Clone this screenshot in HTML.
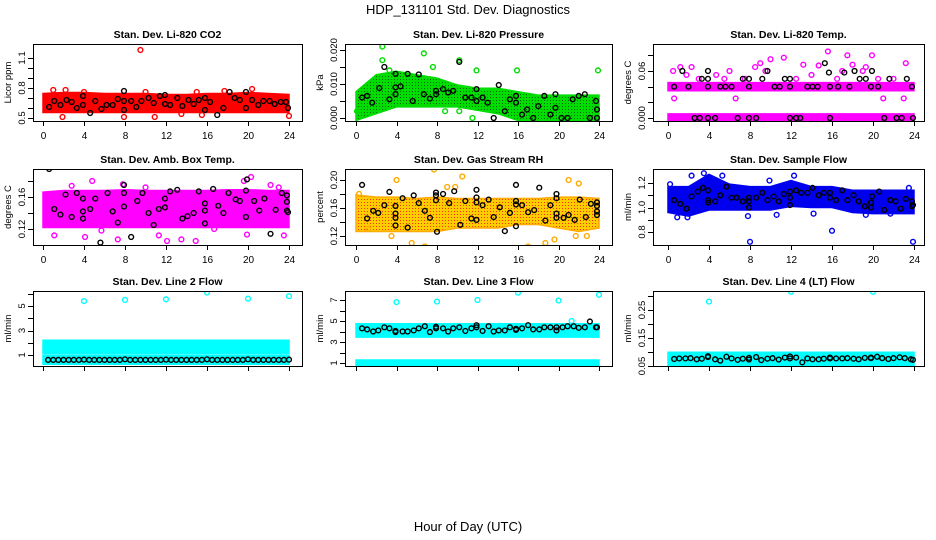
<!DOCTYPE html>
<html><head><meta charset="utf-8">
<style>
html,body{margin:0;padding:0;background:#fff;}
svg{display:block;font-family:"Liberation Sans",Arial,sans-serif;}
</style></head>
<body>
<svg id="chart" width="936" height="540" viewBox="0 0 936 540" xmlns="http://www.w3.org/2000/svg">
<defs>
<pattern id="pGreen" width="3" height="3" patternUnits="userSpaceOnUse"><rect width="3" height="3" fill="#00dd00"/><rect x="1" y="1" width="1" height="1" fill="#006600"/></pattern>
<pattern id="pOrange" width="3" height="3" patternUnits="userSpaceOnUse"><rect width="3" height="3" fill="#ffcc00"/><rect x="1" y="1" width="1" height="1" fill="#ff3300"/></pattern>
</defs>
<text x="468" y="14" text-anchor="middle" font-size="13">HDP_131101  Std. Dev. Diagnostics</text>
<text x="468" y="531" text-anchor="middle" font-size="13">Hour of Day (UTC)</text>
<g id="panels"></g>
</svg>
<script>
// ---- shared ----
const bandHours = [0,2,4,6,8,10,12,14,16,18,20,22,24];
const xTickValues = [0,4,8,12,16,20,24];

// ---- Panel 1: CO2 ----
const co2BandLo = [0.58,0.58,0.58,0.58,0.58,0.58,0.58,0.58,0.58,0.58,0.58,0.58,0.58];
const co2BandHi = [0.72,0.73,0.73,0.72,0.72,0.72,0.71,0.71,0.72,0.72,0.73,0.72,0.71];
const co2OutHours = [9.5,1.0,2.2,4.0,1.9,7.9,10.9,13.5,15.5,17.7,20.4,24,15,10];
const co2OutVals = [1.18,0.78,0.78,0.76,0.51,0.51,0.51,0.54,0.53,0.77,0.79,0.52,0.76,0.76];
const co2BlkHours = [0.6,1.1,1.7,2.3,2.8,3.3,3.9,3.9,4.6,5.1,5.7,6.2,6.8,7.3,7.9,7.9,7.9,8.6,9.1,9.6,10.3,10.8,11.4,11.9,11.9,12.4,13.1,13.6,14.2,14.7,15.2,15.8,15.8,16.3,17.0,17.6,18.2,18.7,19.2,19.8,19.8,20.4,21.0,21.5,22.1,22.6,23.2,23.7,23.9];
const co2BlkVals = [0.61,0.67,0.63,0.68,0.66,0.60,0.72,0.63,0.55,0.67,0.59,0.63,0.63,0.69,0.77,0.67,0.58,0.67,0.61,0.67,0.70,0.65,0.72,0.64,0.73,0.63,0.70,0.62,0.68,0.64,0.68,0.70,0.58,0.66,0.53,0.60,0.76,0.70,0.68,0.60,0.76,0.68,0.63,0.67,0.67,0.64,0.66,0.66,0.60];
const co2Ticks = [0.5,0.6,0.7,0.8,0.9,1.0,1.1];
const co2Labels = ["0.5","0.8","1.1"];

// ---- Panel 2: Pressure ----
const presBandLo = [0.000,0.002,0.004,0.004,0.004,0.004,0.003,0.002,0.000,0.000,0.000,0.000,0.000];
const presBandHi = [0.007,0.012,0.013,0.012,0.011,0.009,0.008,0.008,0.007,0.006,0.006,0.006,0.006];
const presOutHours = [2.6,2.6,6.7,7.6,10.2,11.9,15.9,23.9,3.3,0.1,8.8,10.2,11.5];
const presOutVals = [0.021,0.017,0.019,0.015,0.017,0.014,0.014,0.014,0.014,0.002,0.002,0.002,0.000];
const presBlkHours = [0.6,1.1,1.6,2.3,2.8,3.3,3.9,3.9,3.9,4.4,5.1,5.6,6.2,6.7,7.3,7.9,7.9,8.6,9.1,9.6,10.2,10.8,11.4,11.9,11.9,12.5,13.0,13.6,14.1,14.7,15.2,15.8,15.8,16.4,16.9,17.5,18.0,18.6,19.2,19.7,19.7,20.3,20.9,21.4,22.0,22.6,23.1,23.7,23.8,23.8];
const presBlkVals = [0.006,0.0065,0.0045,0.0088,0.015,0.0055,0.013,0.009,0.007,0.0093,0.013,0.005,0.0128,0.007,0.0057,0.008,0.007,0.0085,0.0075,0.008,0.0165,0.006,0.006,0.0085,0.005,0.006,0.0045,0.000,0.0097,0.002,0.0055,0.0065,0.0045,0.001,0.0025,0.000,0.0035,0.0065,0.001,0.007,0.003,0.000,0.000,0.0055,0.0065,0.007,0.000,0.005,0.0025,0.000];
const presTicks = [0,0.005,0.010,0.015,0.020];
const presLabels = ["0.000","0.010","0.020"];

// ---- Panel 3: Li-820 Temp ----
const ltBandLo = [-0.002,-0.002,-0.002,-0.002,-0.002,-0.002,-0.002,-0.002,-0.002,-0.002,-0.002,-0.002,-0.002];
const ltBandHi = [0.002,0.002,0.002,0.002,0.002,0.002,0.002,0.002,0.002,0.002,0.002,0.002,0.002];
const ltBand2Lo = [0.038,0.038,0.038,0.038,0.038,0.038,0.038,0.038,0.038,0.038,0.038,0.038,0.038];
const ltBand2Hi = [0.042,0.042,0.042,0.042,0.042,0.042,0.042,0.042,0.042,0.042,0.042,0.042,0.042];
const ltOutHours = [15.6,17.5,19.9,11.3,10,9,2.3,23.2,0.5,6.6,0.6,21,23,4.7,1.2,14.7,8.5,13.2,18,19.3,3,5.5,7.5,12.5,16.5,20.5,22,1.8,6,9.5,14,17,19];
const ltOutVals = [0.085,0.08,0.08,0.077,0.075,0.07,0.065,0.07,0.06,0.025,0.025,0.025,0.025,0.055,0.065,0.067,0.065,0.068,0.068,0.065,0.05,0.05,0.05,0.05,0.05,0.05,0.05,0.055,0.06,0.06,0.055,0.06,0.06];
const ltBlkHours = [0.6,1.4,2.0,2.6,3.1,3.3,3.9,3.9,3.9,3.9,4.6,5.1,5.6,6.2,6.8,7.3,7.9,7.9,7.9,8.6,9.2,9.7,10.4,10.9,11.4,11.9,11.9,11.9,12.5,12.9,13.6,14.1,14.6,15.3,15.7,15.8,15.8,16.6,17.2,17.7,18.2,18.7,19.3,19.8,19.9,20.5,21.1,21.6,22.3,22.8,23.3,23.8,23.9];
const ltBlkVals = [0.04,0.06,0.04,0.0,0.0,0.05,0.06,0.05,0.04,0.0,0.0,0.04,0.04,0.04,0.0,0.05,0.05,0.04,0.0,0.0,0.05,0.06,0.04,0.04,0.05,0.05,0.04,0.0,0.0,0.0,0.04,0.04,0.04,0.07,0.058,0.04,0.0,0.04,0.058,0.04,0.06,0.05,0.05,0.04,0.06,0.04,0.0,0.05,0.0,0.0,0.05,0.04,0.0];
const ltTicks = [0,0.02,0.04,0.06,0.08];
const ltLabels = ["0.000","0.06"];

// ---- Panel 4: Amb Box Temp ----
const abBandLo = [0.125,0.125,0.125,0.125,0.125,0.125,0.125,0.125,0.125,0.125,0.125,0.125,0.125];
const abBandHi = [0.163,0.165,0.165,0.165,0.166,0.165,0.165,0.165,0.165,0.166,0.166,0.165,0.165];
const abOutHours = [4.8,7.8,20.3,19.6,23,22.2,1.1,4.1,5.7,7.3,11.3,12.1,13.5,14.9,16.7,19.9,23.5,10,2.8];
const abOutVals = [0.18,0.176,0.185,0.18,0.172,0.175,0.112,0.11,0.118,0.107,0.112,0.105,0.107,0.105,0.12,0.113,0.112,0.172,0.174];
const abBlkHours = [0.6,1.1,1.7,2.2,2.8,3.3,3.9,3.9,3.9,4.6,5.1,5.6,6.3,6.8,7.3,7.9,7.9,7.9,8.6,9.2,9.7,10.3,10.8,11.3,11.9,11.9,12.4,13.1,13.6,14.1,14.7,15.2,15.8,15.8,15.8,16.6,17.1,17.6,18.1,18.8,19.2,19.8,19.8,19.9,20.6,21.1,21.6,22.2,22.7,23.3,23.8,23.8,23.8,23.9];
const abBlkVals = [0.195,0.145,0.138,0.163,0.135,0.165,0.158,0.142,0.133,0.145,0.158,0.103,0.165,0.142,0.128,0.175,0.165,0.148,0.11,0.155,0.165,0.14,0.125,0.145,0.158,0.147,0.167,0.169,0.133,0.136,0.14,0.167,0.152,0.143,0.127,0.17,0.149,0.14,0.165,0.157,0.155,0.135,0.168,0.182,0.155,0.143,0.158,0.114,0.144,0.165,0.162,0.154,0.143,0.141];
const abTicks = [0.12,0.14,0.16,0.18];
const abLabels = ["0.12","0.16"];

// ---- Panel 5: Gas Stream RH ----
const rhBandLo = [0.13,0.13,0.13,0.13,0.13,0.135,0.135,0.135,0.14,0.14,0.135,0.13,0.135];
const rhBandHi = [0.175,0.172,0.172,0.17,0.172,0.17,0.17,0.17,0.17,0.17,0.172,0.172,0.17];
const rhOutHours = [2.2,7.7,10.5,21.0,22.0,0.3,4.0,5.5,6.8,16.6,17.0,18.7,19.6,21.7,22.8,1.2,3.5,9.0,9.8];
const rhOutVals = [0.22,0.215,0.205,0.20,0.195,0.18,0.20,0.11,0.105,0.10,0.105,0.11,0.115,0.12,0.12,0.13,0.12,0.19,0.19];
const rhBlkHours = [0.6,1.1,1.7,2.2,2.8,3.3,3.9,3.9,3.9,3.9,4.6,5.1,5.7,6.2,6.8,7.3,7.9,7.9,7.9,8.0,8.6,9.2,9.7,10.3,10.8,11.4,11.9,11.9,11.9,11.9,12.5,13.1,13.6,14.2,14.7,15.2,15.8,15.8,15.8,15.8,16.4,17.0,17.6,18.1,18.7,19.2,19.8,19.8,19.8,19.8,20.5,21.0,21.6,22.1,22.7,23.2,23.8,23.8,23.8,23.8];
const rhBlkVals = [0.193,0.145,0.156,0.153,0.164,0.183,0.163,0.152,0.146,0.135,0.174,0.132,0.178,0.167,0.156,0.146,0.182,0.178,0.171,0.126,0.180,0.167,0.184,0.136,0.170,0.145,0.186,0.175,0.168,0.143,0.164,0.172,0.147,0.161,0.127,0.153,0.193,0.170,0.165,0.134,0.164,0.154,0.157,0.189,0.142,0.164,0.180,0.174,0.152,0.146,0.146,0.150,0.143,0.172,0.147,0.166,0.168,0.163,0.155,0.150];
const rhTicks = [0.12,0.14,0.16,0.18,0.20];
const rhLabels = ["0.12","0.16","0.20"];

// ---- Panel 6: Sample Flow ----
const sfBandLo = [0.98,0.95,1.0,1.0,1.0,1.0,1.03,1.02,1.02,0.98,0.97,0.97,0.97];
const sfBandHi = [1.15,1.15,1.25,1.17,1.15,1.15,1.20,1.15,1.15,1.12,1.12,1.12,1.12];
const sfOutHours = [8,16,23.9,3.5,5.3,12.3,2.3,0.9,1.9,7.8,10.6,14.2,19.3,21.7,9.9,12,23.5,0.2];
const sfOutVals = [0.72,0.81,0.72,1.28,1.26,1.26,1.26,0.92,0.92,0.93,0.94,0.95,0.94,0.95,1.22,1.2,1.16,1.19];
const sfBlkHours = [0.6,1.2,1.8,2.3,2.9,3.4,3.9,3.9,3.9,4.6,5.1,5.7,6.2,6.7,7.3,7.9,7.9,7.9,8.6,9.2,9.7,10.3,10.8,11.3,11.9,11.9,11.9,12.5,13.0,13.6,14.1,14.7,15.2,15.8,15.8,16.4,17.0,17.5,18.1,18.6,19.2,19.8,19.8,19.9,20.6,21.1,21.7,22.2,22.7,23.2,23.8,23.8,23.9];
const sfBlkVals = [1.06,1.03,0.99,1.09,1.13,1.16,1.14,1.06,1.04,1.05,1.10,1.17,1.08,1.08,1.05,1.08,1.05,1.00,1.08,1.12,1.06,1.09,1.05,1.11,1.13,1.08,1.02,1.14,1.12,1.12,1.16,1.10,1.12,1.12,1.08,1.06,1.14,1.06,1.10,1.05,1.01,1.04,1.00,1.09,1.13,0.98,1.06,1.05,0.99,1.07,1.05,1.01,1.02];
const sfTicks = [0.8,0.9,1.0,1.1,1.2];
const sfLabels = ["0.8","1.0","1.2"];

// ---- Panel 7: Line 2 Flow ----
const l2BandLo = [1.3,1.3,1.3,1.3,1.3,1.3,1.3,1.3,1.3,1.3,1.3,1.3,1.3];
const l2BandHi = [2.0,2.0,2.0,2.0,2.0,2.0,2.0,2.0,2.0,2.0,2.0,2.0,2.0];
const l2Band2Lo = [0.45,0.45,0.45,0.45,0.45,0.45,0.45,0.45,0.45,0.45,0.45,0.45,0.45];
const l2Band2Hi = [0.75,0.75,0.75,0.75,0.75,0.75,0.75,0.75,0.75,0.75,0.75,0.75,0.75];
const l2OutHours = [4,8,12,16,20,24];
const l2OutVals = [5.4,5.5,5.55,6.1,5.6,5.8];
const l2BlkHours = [0.5,1,1.5,2,2.5,3,3.5,4,4.5,5,5.5,6,6.5,7,7.5,8,8.5,9,9.5,10,10.5,11,11.5,12,12.5,13,13.5,14,14.5,15,15.5,16,16.5,17,17.5,18,18.5,19,19.5,20,20.5,21,21.5,22,22.5,23,23.5,24];
const l2BlkVals = [0.6,0.6,0.6,0.6,0.6,0.6,0.6,0.62,0.6,0.6,0.6,0.6,0.6,0.6,0.6,0.65,0.6,0.6,0.6,0.6,0.6,0.6,0.6,0.62,0.6,0.6,0.6,0.6,0.6,0.6,0.6,0.65,0.6,0.6,0.6,0.6,0.6,0.6,0.6,0.65,0.6,0.6,0.6,0.6,0.6,0.6,0.6,0.62];
const l2Ticks = [1,2,3,4,5,6];
const l2Labels = ["1","3","5"];

// ---- Panel 8: Line 3 Flow ----
const l3BandLo = [3.7,3.7,3.7,3.7,3.7,3.7,3.7,3.7,3.7,3.7,3.7,3.7,3.7];
const l3BandHi = [4.5,4.5,4.5,4.5,4.5,4.5,4.5,4.5,4.5,4.5,4.5,4.5,4.5];
const l3Band2Lo = [0.8,0.8,0.8,0.8,0.8,0.8,0.8,0.8,0.8,0.8,0.8,0.8,0.8];
const l3Band2Hi = [1.05,1.05,1.05,1.05,1.05,1.05,1.05,1.05,1.05,1.05,1.05,1.05,1.05];
const l3OutHours = [4,8,12,16,20,24,21.3];
const l3OutVals = [6.8,6.85,7.0,7.7,6.95,7.5,5.0];
const l3BlkHours = [0.6,1.1,1.7,2.2,2.8,3.3,3.9,3.9,4.6,5.1,5.7,6.2,6.8,7.3,7.9,7.9,8.6,9.1,9.6,10.2,10.8,11.4,11.9,11.9,12.5,13.1,13.6,14.1,14.7,15.2,15.8,15.8,16.4,17.0,17.5,18.1,18.6,19.2,19.8,19.8,20.4,20.9,21.5,22.0,22.6,23.1,23.7,23.8];
const l3BlkVals = [4.3,4.2,4.0,4.1,4.4,4.3,3.95,4.05,4.0,4.0,4.1,4.3,4.5,3.95,4.45,4.3,4.3,4.0,4.3,4.4,4.05,4.3,4.6,4.4,4.05,4.5,4.0,4.1,4.1,4.4,4.25,4.15,4.3,4.6,4.2,4.2,4.4,4.4,4.4,4.1,4.4,4.5,4.5,4.35,4.4,4.95,4.4,4.4];
const l3Ticks = [1,2,3,4,5,6,7];
const l3Labels = ["1","3","5","7"];

// ---- Panel 9: Line 4 (LT) Flow ----
const l4BandLo = [0.055,0.055,0.055,0.055,0.055,0.055,0.055,0.055,0.055,0.055,0.055,0.055,0.055];
const l4BandHi = [0.09,0.09,0.09,0.09,0.09,0.09,0.09,0.09,0.09,0.09,0.09,0.09,0.09];
const l4OutHours = [4,12,20];
const l4OutVals = [0.28,0.315,0.315];
const l4BlkHours = [0.6,1.1,1.7,2.2,2.8,3.3,3.9,3.9,4.6,5.1,5.7,6.2,6.8,7.3,7.9,7.9,8.6,9.1,9.7,10.2,10.8,11.4,11.9,11.9,12.5,13.1,13.6,14.1,14.7,15.2,15.8,15.8,16.4,17.0,17.5,18.1,18.6,19.2,19.8,19.8,20.4,20.9,21.5,22.0,22.6,23.1,23.7,23.9];
const l4BlkVals = [0.075,0.077,0.077,0.078,0.074,0.076,0.085,0.082,0.074,0.069,0.083,0.077,0.072,0.076,0.079,0.073,0.082,0.071,0.076,0.078,0.073,0.08,0.084,0.077,0.08,0.063,0.077,0.074,0.074,0.076,0.08,0.077,0.077,0.077,0.078,0.076,0.074,0.079,0.08,0.078,0.083,0.078,0.075,0.078,0.081,0.078,0.074,0.072];
const l4Ticks = [0.05,0.10,0.15,0.20,0.25,0.30];
const l4Labels = ["0.05","0.15","0.25"];

// ---- layout (pixel geometry only) ----
const cols = [{bx0:33,bx1:302,x0:43,x24:289},{bx0:345,bx1:612,x0:356,x24:599},{bx0:653,bx1:924,x0:668,x24:914}];
const rows = [{by0:44,by1:121,labels:true},{by0:169,by1:245,labels:true},{by0:291,by1:366,labels:false}];

const panels = [
 {name:"co2",title:"Stan. Dev. Li-820 CO2",ylab:"Licor ppm",c:0,r:0,v1:0.5,p1:118,v2:1.1,p2:58,color:"#ff0000",fill:"#ff0000",bands:[[co2BandLo,co2BandHi]],oh:co2OutHours,ov:co2OutVals,bh:co2BlkHours,bv:co2BlkVals,ticks:co2Ticks,labels:co2Labels},
 {name:"pressure",title:"Stan. Dev. Li-820 Pressure",ylab:"kPa",c:1,r:0,v1:0,p1:118,v2:0.020,p2:50,color:"#00dd00",fill:"url(#pGreen)",bands:[[presBandLo,presBandHi]],oh:presOutHours,ov:presOutVals,bh:presBlkHours,bv:presBlkVals,ticks:presTicks,labels:presLabels},
 {name:"licor-temp",title:"Stan. Dev. Li-820 Temp.",ylab:"degrees C",c:2,r:0,v1:0,p1:118,v2:0.06,p2:71,color:"#ff00ff",fill:"#ff00ff",bands:[[ltBandLo,ltBandHi],[ltBand2Lo,ltBand2Hi]],oh:ltOutHours,ov:ltOutVals,bh:ltBlkHours,bv:ltBlkVals,ticks:ltTicks,labels:ltLabels},
 {name:"amb-box-temp",title:"Stan. Dev. Amb. Box Temp.",ylab:"degrees C",c:0,r:1,v1:0.12,p1:229,v2:0.16,p2:197,color:"#ff00ff",fill:"#ff00ff",bands:[[abBandLo,abBandHi]],oh:abOutHours,ov:abOutVals,bh:abBlkHours,bv:abBlkVals,ticks:abTicks,labels:abLabels},
 {name:"gas-rh",title:"Stan. Dev. Gas Stream RH",ylab:"percent",c:1,r:1,v1:0.12,p1:236,v2:0.20,p2:180,color:"#ffaa00",fill:"url(#pOrange)",bands:[[rhBandLo,rhBandHi]],oh:rhOutHours,ov:rhOutVals,bh:rhBlkHours,bv:rhBlkVals,ticks:rhTicks,labels:rhLabels},
 {name:"sample-flow",title:"Stan. Dev. Sample Flow",ylab:"ml/min",c:2,r:1,v1:0.8,p1:232,v2:1.2,p2:183,color:"#0000ee",fill:"#0000ee",bands:[[sfBandLo,sfBandHi]],oh:sfOutHours,ov:sfOutVals,bh:sfBlkHours,bv:sfBlkVals,ticks:sfTicks,labels:sfLabels},
 {name:"line2-flow",title:"Stan. Dev. Line 2 Flow",ylab:"ml/min",c:0,r:2,v1:1,p1:355,v2:5,p2:306,color:"#00ffff",fill:"#00ffff",bands:[[l2BandLo,l2BandHi],[l2Band2Lo,l2Band2Hi]],oh:l2OutHours,ov:l2OutVals,bh:l2BlkHours,bv:l2BlkVals,ticks:l2Ticks,labels:l2Labels},
 {name:"line3-flow",title:"Stan. Dev. Line 3 Flow",ylab:"ml/min",c:1,r:2,v1:1,p1:363,v2:7,p2:300,color:"#00ffff",fill:"#00ffff",bands:[[l3BandLo,l3BandHi],[l3Band2Lo,l3Band2Hi]],oh:l3OutHours,ov:l3OutVals,bh:l3BlkHours,bv:l3BlkVals,ticks:l3Ticks,labels:l3Labels},
 {name:"line4-flow",title:"Stan. Dev. Line 4 (LT) Flow",ylab:"ml/min",c:2,r:2,v1:0.05,p1:366,v2:0.25,p2:310,color:"#00ffff",fill:"#00ffff",bands:[[l4BandLo,l4BandHi]],oh:l4OutHours,ov:l4OutVals,bh:l4BlkHours,bv:l4BlkVals,ticks:l4Ticks,labels:l4Labels}
];

const NS = "http://www.w3.org/2000/svg";
function el(tag, parent){ const e=document.createElementNS(NS,tag); parent.appendChild(e); return e; }
const root = document.getElementById("panels");

panels.forEach(function(p){
  const col = cols[p.c], row = rows[p.r];
  const xs = function(h){ return col.x0 + (col.x24-col.x0)*h/24; };
  const ys = function(v){ return p.p1 + (p.p2-p.p1)*(v-p.v1)/(p.v2-p.v1); };
  const g = el("g", root);
  
  
  const clipId = "clip-" + p.name;
  const cp = el("clipPath", g); cp.setAttribute("id", clipId);
  const cr = el("rect", cp);
  cr.setAttribute("x", col.bx0); cr.setAttribute("y", row.by0);
  cr.setAttribute("width", col.bx1-col.bx0); cr.setAttribute("height", row.by1-row.by0);

  // title
  const t = el("text", g);
  
  
  t.setAttribute("x", (col.bx0+col.bx1)/2); t.setAttribute("y", row.by0-6);
  t.setAttribute("text-anchor","middle"); t.setAttribute("font-size","10.5"); t.setAttribute("font-weight","bold");
  t.textContent = p.title;

  // y-axis title
  const yt = el("text", g);
  
  
  const ymid = (row.by0+row.by1)/2;
  yt.setAttribute("transform","translate("+(col.bx0-22)+","+ymid+") rotate(-90)");
  yt.setAttribute("text-anchor","middle"); yt.setAttribute("font-size","9.5");
  yt.textContent = p.ylab;

  const data = el("g", g);
  
  
  data.setAttribute("clip-path","url(#"+clipId+")");

  // bands of dense points
  p.bands.forEach(function(b){
    let pts = [];
    for (let i=0;i<bandHours.length;i++) pts.push(xs(bandHours[i])+","+(ys(b[1][i])-2.5));
    for (let i=bandHours.length-1;i>=0;i--) pts.push(xs(bandHours[i])+","+(ys(b[0][i])+2.5));
    const poly = el("polygon", data);
    
    
    poly.setAttribute("points", pts.join(" "));
    poly.setAttribute("fill", p.fill);
    poly.setAttribute("stroke", p.color);
    poly.setAttribute("stroke-width","1.5");
  });
  // outliers
  for (let i=0;i<p.oh.length;i++){
    const c = el("circle", data);
    
    
    c.setAttribute("cx", xs(p.oh[i])); c.setAttribute("cy", ys(p.ov[i])); c.setAttribute("r","2.4");
    c.setAttribute("fill","none"); c.setAttribute("stroke", p.color); c.setAttribute("stroke-width","1.4");
  }
  // black hourly points
  for (let i=0;i<p.bh.length;i++){
    const c = el("circle", data);
    
    
    c.setAttribute("cx", xs(p.bh[i])); c.setAttribute("cy", ys(p.bv[i])); c.setAttribute("r","2.4");
    c.setAttribute("fill","none"); c.setAttribute("stroke", "#000"); c.setAttribute("stroke-width","1.4");
  }

  // box
  const box = el("rect", g);
  
  
  box.setAttribute("x", col.bx0+0.5); box.setAttribute("y", row.by0+0.5);
  box.setAttribute("width", col.bx1-col.bx0); box.setAttribute("height", row.by1-row.by0);
  box.setAttribute("fill","none"); box.setAttribute("stroke","#000"); box.setAttribute("stroke-width","1");

  // x ticks
  xTickValues.forEach(function(h){
    const x = Math.round(xs(h))+0.5;
    const tk = el("line", g);
    
    
    tk.setAttribute("x1",x); tk.setAttribute("x2",x);
    tk.setAttribute("y1",row.by1); tk.setAttribute("y2",row.by1+5);
    tk.setAttribute("stroke","#000");
    if (row.labels){
      const tl = el("text", g);
      
      
      tl.setAttribute("x", x); tl.setAttribute("y", row.by1+18);
      tl.setAttribute("text-anchor","middle"); tl.setAttribute("font-size","10");
      tl.textContent = String(h);
    }
  });
  // y ticks
  p.ticks.forEach(function(v){
    const y = Math.round(ys(v))+0.5;
    const tk = el("line", g);
    
    
    tk.setAttribute("x1",col.bx0-5); tk.setAttribute("x2",col.bx0);
    tk.setAttribute("y1",y); tk.setAttribute("y2",y);
    tk.setAttribute("stroke","#000");
  });
  p.labels.forEach(function(s){
    const y = ys(parseFloat(s));
    const tl = el("text", g);
    
    
    tl.setAttribute("transform","translate("+(col.bx0-8)+","+y+") rotate(-90)");
    tl.setAttribute("text-anchor","middle"); tl.setAttribute("font-size","9.5");
    tl.textContent = s;
  });
});
</script>
</body></html>
